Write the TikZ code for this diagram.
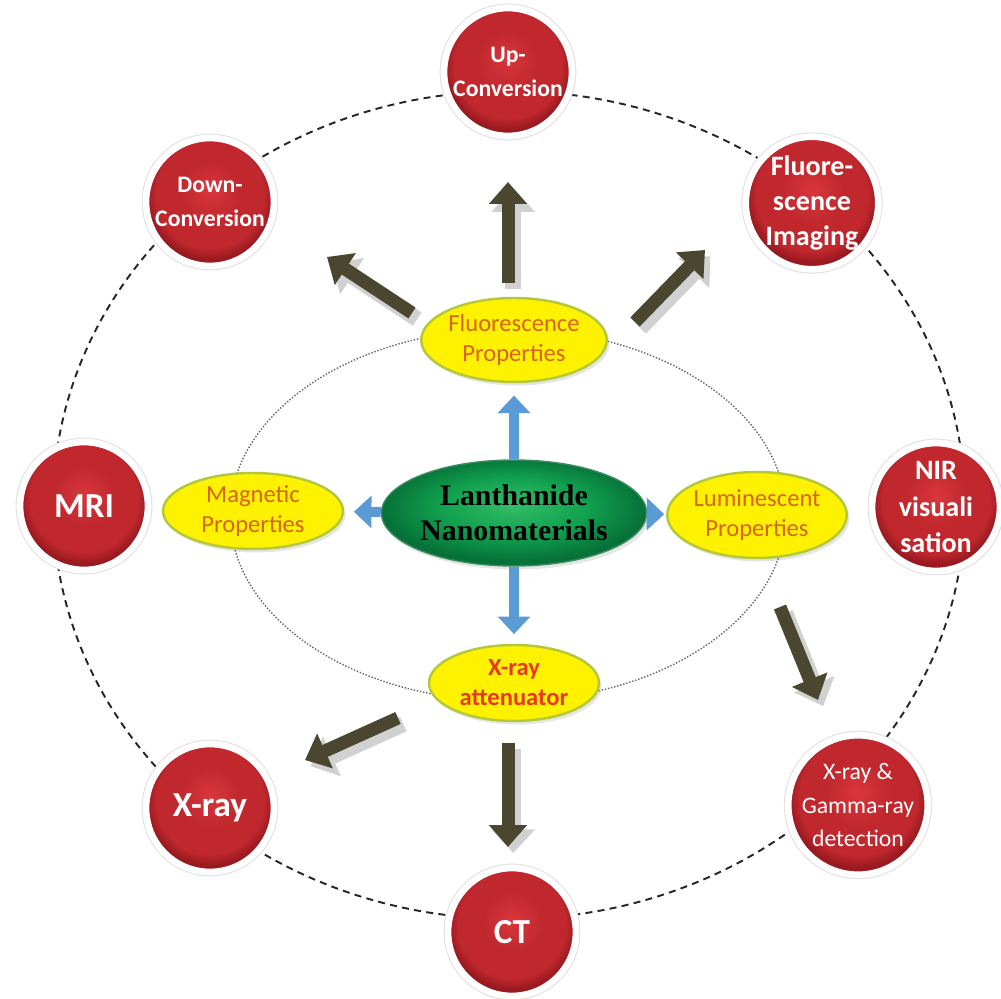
\documentclass[tikz,border=0pt]{standalone}
\usepackage{fontspec}
\setmainfont{Carlito}
\newfontfamily\lanfont{Liberation Serif}
\usetikzlibrary{arrows.meta,shapes.geometric,shadows}
\definecolor{olivearrow}{HTML}{4B4630}
\definecolor{bluearrow}{HTML}{5B9BD5}
\definecolor{redhi}{HTML}{D8363C}
\definecolor{redc}{HTML}{C0282E}
\definecolor{redd}{HTML}{98191F}
\definecolor{yelborder}{HTML}{B4C83A}
\definecolor{greenhi}{HTML}{34BE66}
\definecolor{greenc}{HTML}{10A04E}
\definecolor{greend}{HTML}{067038}
\definecolor{orangetxt}{HTML}{D8641A}
\definecolor{redtxt}{HTML}{E63A1E}
\pgfdeclareradialshading{redballshade}{\pgfpoint{0bp}{5bp}}{color(0bp)=(redhi); color(12bp)=(redc); color(21bp)=(redc); color(25bp)=(redd); color(50bp)=(redd)}
\pgfdeclareradialshading{greenballshade}{\pgfpoint{0bp}{4bp}}{color(0bp)=(greenhi); color(14bp)=(greenc); color(25bp)=(greend); color(50bp)=(greend)}
\begin{document}
\begin{tikzpicture}[x=0.02cm,y=-0.02cm,
  redball/.style={circle,minimum size=2.56cm,inner sep=0pt,shading=redballshade,
    preaction={draw=red!12!black!12,line width=5pt},draw=white,line width=3.8pt,
    text=white,align=center,font=\bfseries\fontsize{13.5}{19}\selectfont},
  yel/.style={ellipse,fill=yellow,draw=yelborder,line width=1.4pt,inner sep=0pt,
    align=center,text=orangetxt,font=\fontsize{14}{17.5}\selectfont,
    drop shadow={opacity=0.2,shadow xshift=1.5pt,shadow yshift=-2pt}},
  lanbox/.style={ellipse,shading=greenballshade,draw=greend!80,line width=0.8pt,
    inner sep=0pt,align=center,minimum width=5.2cm,minimum height=2.12cm,
    font=\lanfont\bfseries\fontsize{17}{20}\selectfont,
    drop shadow={opacity=0.2,shadow xshift=1.5pt,shadow yshift=-2pt}},
  oarrow/.style={draw=olivearrow,line width=7.4pt,-{Triangle[length=12.5pt,width=21pt]}},
  oshadow/.style={draw=black!18,line width=9pt,-{Triangle[length=13.5pt,width=24pt]},
    transform canvas={shift={(3pt,-3.5pt)}}},
  barrow/.style={draw=bluearrow,line width=5.7pt,-{Triangle[length=10pt,width=18pt]}},
  outerring/.style={draw=black!85,line width=1.1pt,dash pattern=on 4pt off 3pt},
  innerring/.style={draw=black!60,line width=0.8pt,densely dotted}
]
\useasboundingbox (0,0) rectangle (1001,999);
\fill[white] (0,0) rectangle (1001,999);

% rings
\draw[outerring] (509,505) ellipse [x radius=9.12cm, y radius=8.28cm];
\draw[innerring] (508,515) ellipse [x radius=5.56cm, y radius=3.72cm];

% outer application circles
\node[redball] (upc) at (508,72) {Up-\\Conversion};
\node[redball] (downc) at (210,202) {Down-\\Conversion};
\node[redball,font=\bfseries\fontsize{16}{20}\selectfont] (fluimg) at (812,203) {Fluore-\\scence\\Imaging};
\node[redball,font=\bfseries\fontsize{20}{24}\selectfont] (mri) at (84,506) {MRI};
\node[redball,font=\bfseries\fontsize{16}{20.5}\selectfont] (nir) at (936,507) {NIR\\visuali\\sation};
\node[redball,font=\bfseries\fontsize{20}{24}\selectfont] (xray) at (210,808) {X-ray};
\node[redball,font=\bfseries\fontsize{20}{24}\selectfont] (ct) at (512,932) {CT};
\node[redball,minimum size=2.48cm,font=\fontsize{13.5}{19}\selectfont] (xgam) at (858,805) {X-ray \&\\Gamma-ray\\detection};

% properties
\node[yel,minimum width=3.64cm,minimum height=1.68cm] (fluo) at (514,340) {Fluorescence\\Properties};
\node[yel,minimum width=3.6cm,minimum height=1.52cm] (magn) at (253,511) {Magnetic\\Properties};
\node[yel,minimum width=3.32cm,minimum height=1.72cm] (lumi) at (757,515) {Luminescent\\Properties};
\node[yel,minimum width=3.4cm,minimum height=1.52cm,text=redtxt,font=\bfseries\fontsize{14}{17}\selectfont] (xatt) at (514,683) {X-ray\\attenuator};

% centre
\node[lanbox] (lan) at (514,513) {Lanthanide\\Nanomaterials};

% blue arrows
\draw[barrow,shorten >=7pt] (lan) -- (fluo);
\draw[barrow,shorten >=5.5pt] (lan) -- (xatt);
\draw[barrow,shorten >=5.5pt] (lan) -- (magn);
\draw[barrow,shorten >=1pt] (lan) -- (lumi);

% free ends of the application arrows
\coordinate (a1s) at (508,283); \coordinate (a1e) at (508,182);
\coordinate (a2s) at (412,313); \coordinate (a2e) at (327,257);
\coordinate (a3s) at (635,322); \coordinate (a3e) at (705,250);
\coordinate (a4s) at (780,607); \coordinate (a4e) at (818,700);
\coordinate (a5s) at (508,743); \coordinate (a5e) at (508,847);
\coordinate (a6s) at (398,718); \coordinate (a6e) at (305,760);

\foreach \k in {1,...,6}{\draw[oshadow] (a\k s) -- (a\k e);}
\draw[oarrow] (a1s) -- (a1e);
\draw[oarrow] (a2s) -- (a2e);
\draw[oarrow] (a3s) -- (a3e);
\draw[oarrow] (a4s) -- (a4e);
\draw[oarrow] (a5s) -- (a5e);
\draw[oarrow] (a6s) -- (a6e);
\end{tikzpicture}
\end{document}
